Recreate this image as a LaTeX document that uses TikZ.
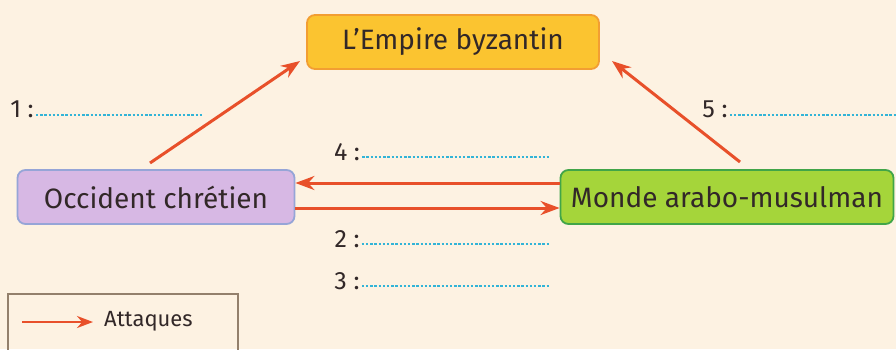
\documentclass[tikz,border=0pt]{standalone}
\usepackage{fontspec}
\setmainfont{Fira Sans}
\usetikzlibrary{arrows.meta}
\definecolor{fond}{RGB}{253,242,226}
\definecolor{attaque}{RGB}{232,80,42}
\definecolor{pointille}{RGB}{50,180,215}
\definecolor{texte}{RGB}{50,40,40}
\definecolor{jaune}{RGB}{251,196,48}
\definecolor{jauneb}{RGB}{242,158,50}
\definecolor{lilas}{RGB}{215,184,228}
\definecolor{lilasb}{RGB}{150,165,215}
\definecolor{vert}{RGB}{165,213,58}
\definecolor{vertb}{RGB}{65,165,72}
\begin{document}
\begin{tikzpicture}[x=1pt,y=-1pt, font=\fontsize{28}{32}\selectfont, text=texte,
  main/.style = {draw, rounded corners=8pt, line width=1.8pt, minimum height=54pt, inner xsep=8pt},
  fleche/.style = {-{Stealth[length=19pt,width=14pt]}, attaque, line width=3pt},
  num/.style = {font=\fontsize{25}{28}\selectfont, inner sep=2pt},
  blanc/.style = {pointille, dash pattern=on 2.4pt off 1.8pt, line width=2.6pt}]
\fill[fond] (0,0) rectangle (896,349);
\useasboundingbox (0,0) rectangle (896,349);
\node[main, draw=jauneb, fill=jaune, minimum width=292pt] (empire) at (453,42) {L’Empire byzantin};
\node[main, draw=lilasb, fill=lilas, minimum width=277pt] (occident) at (156,197) {Occident chrétien};
\node[main, draw=vertb, fill=vert, minimum width=333pt] (monde) at (727,197) {Monde arabo-musulman};
% attaques
\draw[fleche] (150,163) -- (300,61);
\draw[fleche] (740,162) -- (612,61);
\draw[fleche] (monde.west |- 0,183) -- (occident.east |- 0,183);
\draw[fleche] (occident.east |- 0,208) -- (monde.west |- 0,208);
% reponses
\node[num] (n1) at (22,109) {1 :};
\node[num] (n5) at (715,109) {5 :};
\node[num] (n4) at (347,152) {4 :};
\node[num] (n2) at (347,239) {2 :};
\node[num] (n3) at (347,281) {3 :};
\coordinate (f1) at (202,115);
\coordinate (f5) at (896,115);
\coordinate (f4) at (549,157);
\coordinate (f2) at (549,244);
\coordinate (f3) at (549,286);
\draw[blanc] (n1.east |- f1) -- (f1);
\draw[blanc] (n5.east |- f5) -- (f5);
\draw[blanc] (n4.east |- f4) -- (f4);
\draw[blanc] (n2.east |- f2) -- (f2);
\draw[blanc] (n3.east |- f3) -- (f3);
% legende
\draw[line width=1.3pt, draw=gray!70!brown] (8,351) -- (8,294) -- (238,294) -- (238,351);
\coordinate (l1) at (22,322);
\coordinate (l2) at (93,322);
\node[num, font=\fontsize{22}{25}\selectfont, anchor=west] (leg) at (102,321) {Attaques};
\draw[fleche, line width=2.6pt, -{Stealth[length=16pt,width=12pt]}] (l1) -- (l2);
\end{tikzpicture}
\end{document}
